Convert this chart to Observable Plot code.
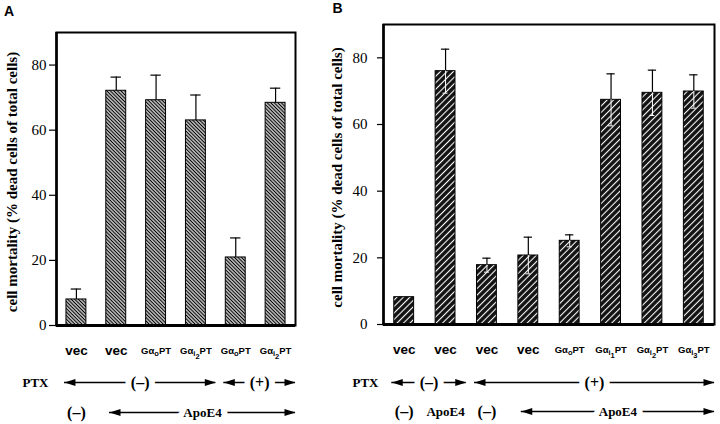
<!DOCTYPE html>
<html>
<head>
<meta charset="utf-8">
<script src="https://cdn.jsdelivr.net/npm/d3@7"></script>
<script src="https://cdn.jsdelivr.net/npm/@observablehq/plot@0.6"></script>
<style>
  html, body { margin: 0; padding: 0; background: #fff; }
  #wrap { position: relative; width: 720px; height: 424px; background: #fff; overflow: hidden; }
  #wrap svg { position: absolute; top: 0; }
</style>
</head>
<body>
<div id="wrap"></div>
<script>
// ---------- data ----------
const yLabel = "cell mortality (% dead cells of total cells)";
const yTicks = [0, 20, 40, 60, 80];

// Panel A
const catsA = ["vec", "vec", "Gα_o PT", "Gα_i2 PT", "Gα_o PT", "Gα_i2 PT"];
const meanA = [8.0, 72.1, 69.2, 63.0, 20.9, 68.4];
const errA  = [3.2, 4.2, 7.7, 7.8, 6.0, 4.5];
const ptxA  = [{text: "(–)", from: 0, to: 3}, {text: "(+)", from: 4, to: 5}];
const apoA  = [{text: "(–)", from: 0, to: 0}, {text: "ApoE4", from: 1, to: 5}];

// Panel B
const catsB = ["vec", "vec", "vec", "vec", "Gα_o PT", "Gα_i1 PT", "Gα_i2 PT", "Gα_i3 PT"];
const meanB = [8.2, 76.0, 17.8, 20.7, 25.1, 67.4, 69.5, 69.9];
const errB  = [0, 6.6, 2.1, 5.5, 1.8, 7.8, 6.8, 5.0];
const ptxB  = [{text: "(–)", from: 0, to: 1}, {text: "(+)", from: 2, to: 7}];
const apoB  = [{text: "(–)", from: 0, to: 0}, {text: "ApoE4", from: 1, to: 1},
               {text: "(–)", from: 2, to: 2}, {text: "ApoE4", from: 3, to: 7}];

// ---------- helpers ----------
const headSymbol = {
  draw(ctx) { const L = 11, h = 3.6; ctx.moveTo(0, 0); ctx.lineTo(-L, -h); ctx.lineTo(-L, h); ctx.closePath(); }
};
const serif = "Liberation Serif, Times New Roman, serif";
const sans = "Liberation Sans, Arial, sans-serif";

function rowMarks(spans, dy, leftPad, rightPad) {
  const arrows = spans.filter(s => s.to > s.from).map(s => ({...s, a: s.from - leftPad, b: s.to + rightPad}));
  const labels = spans.map(s => s.to > s.from ? {...s, c: (s.from - leftPad + s.to + rightPad) / 2} : {...s, c: s.from});
  return [
    Plot.ruleY(arrows, {y: 0, x1: "a", x2: "b", dy, stroke: "black", strokeWidth: 1.6}),
    Plot.dot(arrows, {x: "a", y: 0, dy, symbol: headSymbol, rotate: 180, fill: "black", stroke: "none"}),
    Plot.dot(arrows, {x: "b", y: 0, dy, symbol: headSymbol, rotate: 0, fill: "black", stroke: "none"}),
    Plot.text(labels, {x: "c", y: 0, dy, text: "text", lineAnchor: "middle",
      fontFamily: serif, fontWeight: "bold", fontSize: d => d.text === "ApoE4" ? 13 : 16,
      stroke: "white", strokeWidth: 12, paintOrder: "stroke", fill: "black"})
  ];
}

function panel(o) {
  const n = o.cats.length;
  const idx = d3.range(n);
  const withErr = idx.filter(i => o.err[i] > 0);
  const marks = [
    Plot.rectY(idx, {x1: i => i - o.half, x2: i => i + o.half, y1: 0, y2: i => o.mean[i],
      fill: `url(#${o.pattern})`, stroke: "black", strokeWidth: 1}),
    Plot.ruleX(withErr, {x: i => i, y1: i => o.mean[i], y2: i => o.mean[i] + o.err[i], stroke: "black", strokeWidth: 1.2}),
    Plot.ruleY(withErr, {y: i => o.mean[i] + o.err[i], x1: i => i - o.cap, x2: i => i + o.cap, stroke: "black", strokeWidth: 1.2}),
  ];
  if (o.inner) {
    marks.push(
      Plot.ruleX(withErr, {x: i => i, y1: i => o.mean[i] - o.err[i], y2: i => o.mean[i], stroke: "white", strokeWidth: 1}),
      Plot.ruleY(withErr, {y: i => o.mean[i] - o.err[i], x1: i => i - o.cap * 0.6, x2: i => i + o.cap * 0.6, stroke: "white", strokeWidth: 1})
    );
  }
  marks.push(
    Plot.frame({stroke: "black", strokeWidth: 2}),
    Plot.ruleY([0], {stroke: "black", strokeWidth: 3}),
    Plot.ruleX([-0.5], {stroke: "black", strokeWidth: 2.5}),
    Plot.axisY({ticks: yTicks, tickSize: o.tickSize, tickPadding: o.tickPadding, label: null,
      fontFamily: serif, fontSize: 15, strokeWidth: 1.2}),
    Plot.text([yLabel], {frameAnchor: "left", textAnchor: "middle", lineAnchor: "middle", rotate: -90, dx: o.yLabelDx, dy: 3,
      fontFamily: serif, fontWeight: "bold", fontSize: 15}),
    Plot.text([o.letter], {frameAnchor: "top-left", textAnchor: "middle", lineAnchor: "middle", dx: o.letterDx, dy: o.letterDy,
      fontFamily: sans, fontWeight: "bold", fontSize: 14}),
    Plot.text(idx, {x: i => i, y: 0, text: i => o.cats[i], dy: 25, lineAnchor: "middle", className: "catlab",
      fontFamily: sans, fontWeight: "bold", fontSize: 13.5}),
    Plot.text(["PTX"], {frameAnchor: "bottom-left", dx: o.ptxDx, dy: o.ptxDy, textAnchor: "end", lineAnchor: "middle",
      fontFamily: serif, fontWeight: "bold", fontSize: 13}),
    ...rowMarks(o.ptx, o.ptxDy, 0.3, 0.5),
    ...rowMarks(o.apo, o.apoDy, 0.17, 0.5)
  );
  const svg = Plot.plot({
    width: o.width, height: 424,
    marginLeft: o.mL, marginRight: o.mR, marginTop: o.mT, marginBottom: o.mB,
    x: {domain: [-0.5, n - 0.5], axis: null},
    y: {domain: [0, 90]},
    style: {background: "transparent", fontFamily: serif, overflow: "visible"},
    marks
  });
  // patterns
  const ns = "http://www.w3.org/2000/svg";
  const defs = document.createElementNS(ns, "defs");
  defs.innerHTML = o.patternDef;
  svg.insertBefore(defs, svg.firstChild);
  // subscripted labels
  svg.querySelectorAll("g.catlab text").forEach(t => {
    const m = t.textContent.match(/^Gα_([a-z])(\d?) PT$/);
    if (!m) return;
    t.textContent = "";
    t.setAttribute("font-size", 9.5);
    const add = (s, attrs) => {
      const ts = document.createElementNS(ns, "tspan");
      ts.textContent = s;
      for (const k in attrs) ts.setAttribute(k, attrs[k]);
      t.appendChild(ts);
    };
    add("Gα", {});
    add(m[1], {"font-size": 7.5, dy: 2.5});
    let down = 2.5;
    if (m[2]) { add(m[2], {"font-size": 7.5, dy: 2.5}); down += 2.5; }
    add("PT", {dy: -down});
  });
  svg.style.left = o.left + "px";
  return svg;
}

const wrap = document.getElementById("wrap");
wrap.appendChild(panel({
  cats: catsA, mean: meanA, err: errA, ptx: ptxA, apo: apoA,
  left: 0, width: 320, mL: 56, mR: 25, mT: 32, mB: 99,
  half: 0.25, cap: 0.13, inner: false,
  tickSize: 7, tickPadding: 3, yLabelDx: -44,
  letter: "A", letterDx: -47.5, letterDy: -20.5,
  ptxDx: -8, ptxDy: 57, apoDy: 87,
  pattern: "hatchA",
  patternDef: `<pattern id="hatchA" width="2.5" height="2.5" patternUnits="userSpaceOnUse" patternTransform="rotate(-45)">
     <rect width="2.5" height="2.5" fill="#fff"/><line x1="1.25" y1="0" x2="1.25" y2="2.5" stroke="#000" stroke-width="1.35"/></pattern>`
}));
wrap.appendChild(panel({
  cats: catsB, mean: meanB, err: errB, ptx: ptxB, apo: apoB,
  left: 320, width: 400, mL: 63, mR: 6, mT: 24, mB: 100,
  half: 0.24, cap: 0.1, inner: true,
  tickSize: 6, tickPadding: 10, yLabelDx: -46,
  letter: "B", letterDx: -46, letterDy: -16,
  ptxDx: -5, ptxDy: 58, apoDy: 87,
  pattern: "hatchB",
  patternDef: `<pattern id="hatchB" width="4.6" height="4.6" patternUnits="userSpaceOnUse" patternTransform="rotate(45)">
     <rect width="4.6" height="4.6" fill="#111"/><line x1="2.3" y1="0" x2="2.3" y2="4.6" stroke="#fff" stroke-width="1.1"/></pattern>`
}));
</script>
</body>
</html>
